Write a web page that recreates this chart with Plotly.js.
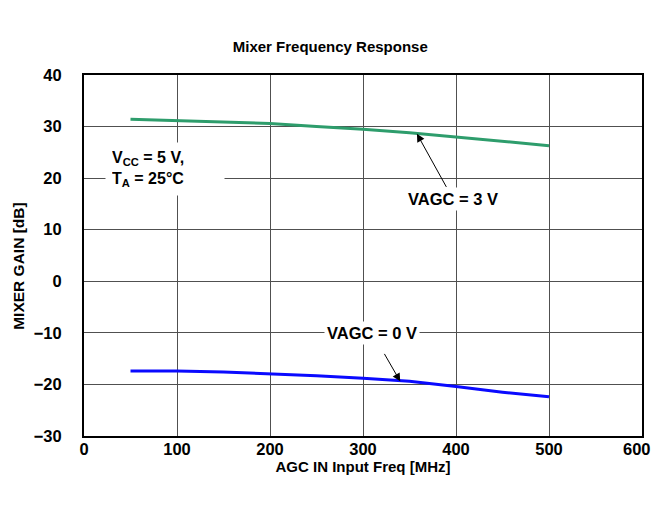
<!DOCTYPE html>
<html><head><meta charset="utf-8">
<script src="https://cdn.plot.ly/plotly-3.0.1.min.js"></script>
<style>html,body{margin:0;padding:0;background:#fff}</style>
</head><body>
<div id="chart" style="width:654px;height:505px"></div>
<script>
const freqHigh = [50, 100, 150, 200, 250, 300, 350, 400, 450, 500];
const gainHigh = [31.4, 31.1, 30.8, 30.6, 30.0, 29.5, 28.8, 28.0, 27.2, 26.3];
const freqLow = [50, 100, 150, 200, 250, 300, 350, 400, 450, 500];
const gainLow = [-17.4, -17.4, -17.6, -17.9, -18.3, -18.8, -19.4, -20.4, -21.5, -22.4];
const xTicks = [0, 100, 200, 300, 400, 500, 600];
const xTickText = ['0', '100', '200', '300', '400', '500', '600'];
const yTicks = [-30, -20, -10, 0, 10, 20, 30, 40];
const yTickText = ['\u221230', '\u221220', '\u221210', '0', '10', '20', '30', '40'];

const fam = 'Liberation Sans, Arial, sans-serif';
const traces = [
  {x: freqHigh, y: gainHigh, mode: 'lines', line: {color: '#2e9d6c', width: 3}, hoverinfo: 'skip'},
  {x: freqLow, y: gainLow, mode: 'lines', line: {color: '#0a0aff', width: 3}, hoverinfo: 'skip'}
];
const nX = xTicks.length;
const tickFont = {family: fam, size: 16.5, color: '#000'};
const layout = {
  width: 654, height: 505,
  margin: {l: 84, r: 12, t: 75, b: 69},
  paper_bgcolor: '#fff', plot_bgcolor: '#fff',
  showlegend: false,
  font: {family: fam, color: '#000', size: 16},
  title: {text: '<b>Mixer Frequency Response</b>', x: 0.505, xanchor: 'center', y: 0.907, yanchor: 'middle', font: {family: fam, size: 15, color: '#000'}},
  xaxis: {
    range: [xTicks[0], xTicks[nX - 1]],
    tickvals: xTicks.slice(0, nX - 1), ticktext: xTickText.slice(0, nX - 1).map(t => '<b>' + t + '</b>'),
    tickfont: tickFont,
    showgrid: true, gridcolor: '#505050', gridwidth: 1,
    showline: true, linecolor: '#000', linewidth: 2, mirror: true,
    ticks: '', ticklen: 0, zeroline: false, ticklabelstandoff: -3,
    title: {text: '<b>AGC IN Input Freq [MHz]</b>', standoff: 0, font: {family: fam, size: 15, color: '#000'}}
  },
  yaxis: {
    range: [-30, 40], tickvals: yTicks, ticktext: yTickText.map(v => '<b>' + v + '</b>'),
    tickfont: tickFont,
    showgrid: true, gridcolor: '#505050', gridwidth: 1,
    showline: true, linecolor: '#000', linewidth: 2, mirror: true,
    ticks: '', zeroline: false, ticklabelstandoff: 17
  },
  annotations: [
    // y axis title, placed slightly below the plot centre as in the reference
    {x: -0.1174, y: 0.47, xref: 'paper', yref: 'paper', xanchor: 'center', yanchor: 'middle',
     textangle: -90, text: '<b>MIXER GAIN [dB]</b>', showarrow: false, font: {family: fam, size: 15.5, color: '#000'}},
    // last x tick label, kept inside the picture like in the reference
    {x: xTicks[nX - 1], y: 0, xref: 'x', yref: 'paper', xanchor: 'right', yanchor: 'top',
     xshift: 10, yshift: -3, borderpad: 0, text: '<b>' + xTickText[nX - 1] + '</b>', showarrow: false, font: tickFont},
    {x: 22.6, y: 21.8, xref: 'x', yref: 'y', xanchor: 'left', yanchor: 'middle', align: 'left',
     width: 106, text: '<b>V<sub>CC</sub> = 5 V,<br>T<sub>A</sub> = 25°C</b>', showarrow: false,
     bgcolor: '#fff', borderpad: 6, font: {family: fam, size: 16, color: '#000'}},
    {x: 358, y: 28.6, xref: 'x', yref: 'y', ax: 397, ay: 15.9, axref: 'x', ayref: 'y',
     text: '<b>VAGC = 3 V</b>', showarrow: true, arrowhead: 2, arrowsize: 1.6, arrowwidth: 1, arrowcolor: '#000',
     startstandoff: 1, bgcolor: '#fff', borderpad: 2, font: {family: fam, size: 16.5, color: '#000'}},
    {x: 340, y: -19.4, xref: 'x', yref: 'y', ax: 310, ay: -10.0, axref: 'x', ayref: 'y',
     text: '<b>VAGC = 0 V</b>', showarrow: true, arrowhead: 2, arrowsize: 1.6, arrowwidth: 1, arrowcolor: '#000',
     startstandoff: 11, bgcolor: '#fff', borderpad: 2, font: {family: fam, size: 16.5, color: '#000'}}
  ]
};
Plotly.newPlot('chart', traces, layout, {displayModeBar: false, staticPlot: true});
</script>
</body></html>
